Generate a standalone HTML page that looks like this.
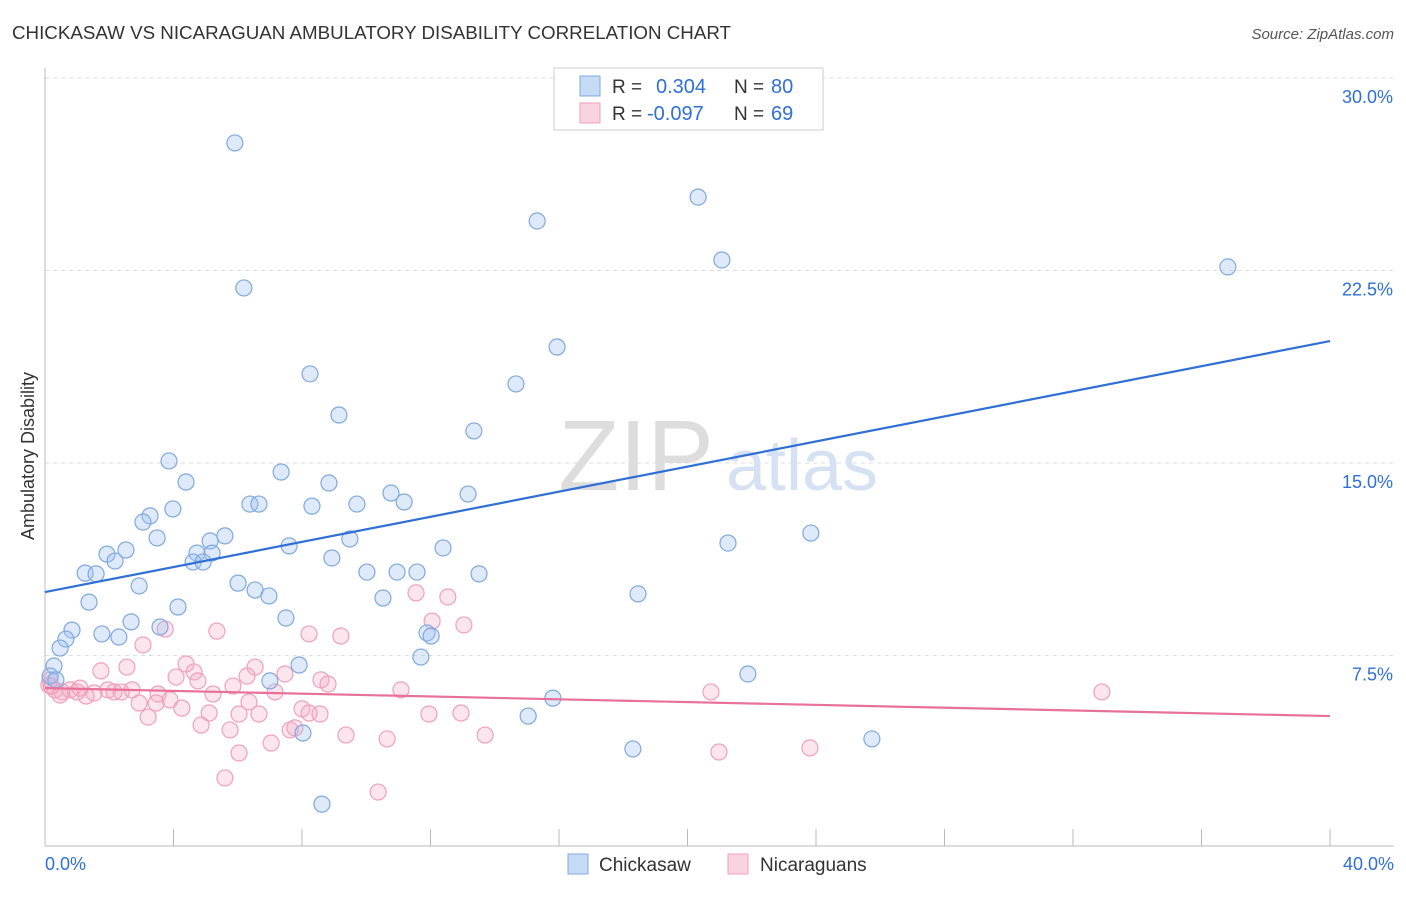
<!DOCTYPE html>
<html><head><meta charset="utf-8">
<style>
body{margin:0;background:#fff;font-family:"Liberation Sans",sans-serif;}
svg text{font-family:"Liberation Sans",sans-serif;}
</style></head>
<body>
<svg id="chart" width="1406" height="892" xmlns="http://www.w3.org/2000/svg">
<text x="12" y="39" font-size="18" fill="#333" textLength="719" lengthAdjust="spacingAndGlyphs">CHICKASAW VS NICARAGUAN AMBULATORY DISABILITY CORRELATION CHART</text>
<text x="1394" y="39" font-size="15" fill="#555" text-anchor="end" font-style="italic">Source: ZipAtlas.com</text>
<g id="grid"></g>
<text x="636" y="490" font-size="100" fill="#ddd" text-anchor="middle" font-family="Liberation Serif">ZIP</text>
<text x="802" y="490" font-size="72" fill="#d6e2f3" text-anchor="middle">atlas</text>
<g id="axes"></g>
<g id="pts"></g>
<g id="lines"></g>
<text transform="translate(34,456) rotate(-90)" font-size="18" fill="#333" text-anchor="middle">Ambulatory Disability</text>
<g>
<rect x="554" y="68" width="269" height="62" fill="#fff" stroke="#ccc"/>
<rect x="580" y="76" width="20" height="20" fill="rgba(160,195,240,0.6)" stroke="#7fa8e0"/>
<rect x="580" y="103" width="20" height="20" fill="rgba(245,175,200,0.55)" stroke="#f0a0bb"/>
<text x="612" y="93" font-size="19" fill="#333">R =</text>
<text x="656" y="93" font-size="20" fill="#2f6fd6">0.304</text>
<text x="734" y="93" font-size="19" fill="#333">N =</text>
<text x="771" y="93" font-size="20" fill="#2f6fd6">80</text>
<text x="612" y="120" font-size="19" fill="#333">R =</text>
<text x="647" y="120" font-size="20" fill="#2f6fd6">-0.097</text>
<text x="734" y="120" font-size="19" fill="#333">N =</text>
<text x="771" y="120" font-size="20" fill="#2f6fd6">69</text>
</g>
<g>
<rect x="568" y="854" width="20" height="20" fill="rgba(160,195,240,0.6)" stroke="#7fa8e0"/>
<text x="599" y="871" font-size="19" fill="#333">Chickasaw</text>
<rect x="728" y="854" width="20" height="20" fill="rgba(245,175,200,0.55)" stroke="#f0a0bb"/>
<text x="760" y="871" font-size="19" fill="#333">Nicaraguans</text>
</g>
</svg>
<script>
const yTicks=[7.5,15,22.5,30];
const yTickLabels=["7.5%","15.0%","22.5%","30.0%"];
const xTickLabels=["0.0%","40.0%"];
const blueX=[5.91,6.19,20.33,15.32,21.07,36.82,15.94,14.66,8.25,9.15,13.35,3.86,4.39,7.35,8.84,10.77,13.17,11.18,6.38,6.66,8.31,9.71,3.98,3.27,3.05,3.49,5.60,5.14,2.52,1.93,7.60,9.49,12.39,21.26,23.84,4.73,5.20,2.18,4.61,4.92,8.93,1.25,1.59,10.02,10.96,11.58,13.51,2.93,6.01,6.54,6.97,10.52,18.46,1.37,4.14,2.68,7.50,3.58,0.84,0.65,1.77,2.30,11.89,12.02,0.47,11.70,0.28,7.91,21.88,7.00,15.81,15.04,8.03,18.30,25.74,8.62,0.16,16.65,16.96,0.34];
const blueY=[27.47,21.82,25.36,24.43,22.91,22.64,19.52,18.08,18.47,16.87,16.25,15.08,14.26,14.65,14.22,13.83,13.79,13.48,13.40,13.40,13.32,13.40,13.21,12.94,12.70,12.08,12.16,11.96,11.61,11.45,11.77,12.04,11.69,11.88,12.27,11.49,11.49,11.18,11.14,11.14,11.30,10.71,10.68,10.75,10.75,10.75,10.68,10.21,10.32,10.05,9.82,9.74,9.90,9.58,9.39,8.81,8.96,8.61,8.49,8.14,8.34,8.22,8.38,8.26,7.79,7.44,7.09,7.13,6.78,6.51,5.84,5.14,4.48,3.86,4.25,1.71,6.70,29.61,29.53,6.55];
const pinkX=[3.74,5.35,3.05,8.22,9.21,11.55,12.54,12.05,13.04,1.74,2.55,4.39,4.64,6.54,7.47,4.08,4.76,8.59,8.81,5.85,0.12,0.31,0.53,0.78,1.00,1.28,1.53,1.96,2.15,2.37,2.71,3.52,3.89,5.23,6.29,7.16,11.08,20.73,32.90,2.93,3.46,4.26,5.11,6.35,8.00,8.22,8.56,6.04,6.66,3.21,4.86,5.76,7.04,7.63,7.78,9.37,10.65,11.95,12.95,13.70,6.04,20.98,23.81,5.60,10.37,0.16,0.47,1.09,0.2];
const pinkY=[8.53,8.45,7.91,8.34,8.26,9.94,9.78,8.84,8.69,6.90,7.05,7.17,6.86,7.05,6.78,6.66,6.51,6.55,6.39,6.31,6.35,6.16,6.08,6.16,6.08,5.92,6.04,6.16,6.08,6.08,6.16,6.00,5.77,6.00,6.70,6.08,6.16,6.08,6.08,5.65,5.65,5.45,5.26,5.69,5.42,5.26,5.22,5.22,5.22,5.10,4.79,4.60,4.09,4.60,4.68,4.40,4.25,5.22,5.26,4.40,3.70,3.74,3.90,2.73,2.18,6.55,5.96,6.23,6.3];
const blueTrend=[9.97,19.75];
const pinkTrend=[6.23,5.14];
const NS="http://www.w3.org/2000/svg";
const X0=45,X1=1330,Y0=848,PX=192.5/7.5;
const xs=v=>X0+v/40*(X1-X0);
const ys=v=>Y0-v*PX;
function mk(tag,attrs,parent){const e=document.createElementNS(NS,tag);for(const k in attrs)e.setAttribute(k,attrs[k]);parent.appendChild(e);return e;}
const grid=document.getElementById('grid'),axes=document.getElementById('axes');
yTicks.forEach((t,i)=>{
  const l=mk('line',{x1:45,x2:1394,y1:ys(t),y2:ys(t),stroke:'#ddd','stroke-dasharray':'4,4'},grid);
  
  
  const tx=mk('text',{x:1393,y:ys(t)+25,'font-size':18,fill:'#2f6fd6','text-anchor':'end'},axes);
  tx.textContent=yTickLabels[i];
  
  
});
const ya=mk('line',{x1:45,x2:45,y1:68,y2:846,stroke:'#bbb'},axes);


const xa=mk('line',{x1:45,x2:1394,y1:846,y2:846,stroke:'#bbb'},axes);


for(let i=0;i<=10;i++){
  const t=mk('line',{x1:xs(i*4),x2:xs(i*4),y1:829,y2:846,stroke:'#bbb'},axes);
  
  
}
[[0,'start',45],[40,'end',1394]].forEach((d,i)=>{
  const tx=mk('text',{x:d[2],y:870,'font-size':18,fill:'#2f6fd6','text-anchor':d[1]},axes);
  tx.textContent=xTickLabels[i];
  
  
});
const pts=document.getElementById('pts');
pinkX.forEach((v,i)=>{
  const c=mk('circle',{cx:xs(v),cy:ys(pinkY[i]),r:8,fill:'rgba(245,170,195,0.3)',stroke:'#f0a0bb','stroke-width':1.2},pts);
  
  
});
blueX.forEach((v,i)=>{
  const c=mk('circle',{cx:xs(v),cy:ys(blueY[i]),r:8,fill:'rgba(160,195,240,0.35)',stroke:'#7fa8e0','stroke-width':1.2},pts);
  
  
});
const lines=document.getElementById('lines');
const bl=mk('line',{x1:xs(0),y1:ys(blueTrend[0]),x2:xs(40),y2:ys(blueTrend[1]),stroke:'#2f6fd6','stroke-width':2.2},lines);


const pl=mk('line',{x1:xs(0),y1:ys(pinkTrend[0]),x2:xs(40),y2:ys(pinkTrend[1]),stroke:'#e8709a','stroke-width':2.2},lines);


</script>
</body></html>
